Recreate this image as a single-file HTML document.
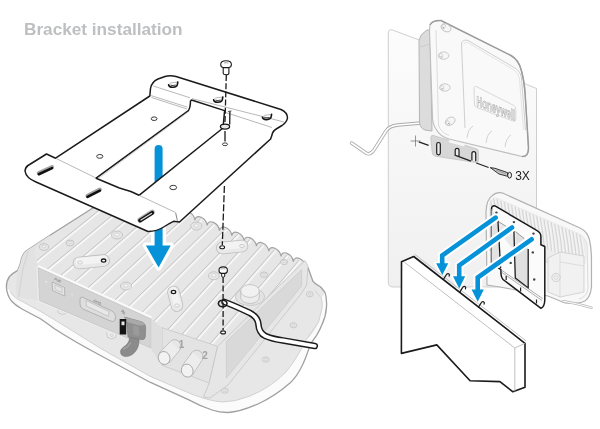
<!DOCTYPE html>
<html><head><meta charset="utf-8">
<style>
html,body{margin:0;padding:0;background:#fff;}
body{width:600px;height:429px;overflow:hidden;position:relative;font-family:"Liberation Sans",sans-serif;}
h1{position:absolute;left:24px;top:19.2px;will-change:transform;margin:0;font-size:17.2px;line-height:20px;font-weight:bold;color:#bebfc1;white-space:nowrap;}
svg{position:absolute;left:0;top:0;will-change:transform;}
</style></head>
<body>
<svg width="600" height="429" viewBox="0 0 600 429">
<defs>
<linearGradient id="wall" x1="0" y1="0" x2="0" y2="1">
<stop offset="0" stop-color="#fcfcfc"/><stop offset="0.5" stop-color="#f6f6f6"/><stop offset="1" stop-color="#f0f0f0"/>
</linearGradient>
</defs>
<path d="M96,206 L50.4,235 L26.1,250.9 Q21.5,255 20.5,263 L17.7,270.4 Q13,273 9.5,276.5 Q6.3,281 6.4,287 Q6.8,295 11.5,301 Q15,305 22,309 L40.8,319 Q48,324 54.8,329 Q75,342 100,355.2 L150,382.2 L187.8,399.4 Q200,406 212,410 Q220,412.6 228,412.5 Q240,412 259,403.5 Q275,396 290,383 Q302,372 310.1,344.6 L316.6,335.3 Q320,330 322.2,324.1 Q326,316 326.5,307 Q327,298 325,292.4 Q322,288.5 320.4,286.8 Q314,283 312.9,281.2 L308,267.5 L170,212 Z" fill="#e7e7e7"/>
<path d="M6.4,287 Q6.8,295 11.5,301 Q15,305 22,309 L40.8,319 Q48,324 54.8,329 Q75,342 100,355.2 L150,382.2 L187.8,399.4 Q200,406 212,410 Q220,412.6 228,412.5 Q240,412 259,403.5 Q275,396 290,383 Q302,372 310.1,344.6 L316.6,335.3 Q320,330 322.2,324.1 Q326,316 326.5,307 Q327,298 325,292.4 L321.3,298 Q322.5,302 322.2,307.3 L318.5,322.2 Q314,333 306,340 Q296,360 286,372 Q270,388 250,396 Q235,402 222,402 Q210,401 193.3,394.8 L150,376.3 L100,348 L60,323.1 L40.8,311.5 L23.3,302.1 Q17,299 15.2,297.5 Q11,294 10.5,291.7 Z" fill="#fbfbfb"/>
<path d="M10.5,291.7 Q11,294 15.2,297.5 Q17,299 23.3,302.1 L40.8,311.5 L60,323.1 L100,348 L150,376.3 L193.3,394.8 Q210,401 222,402 Q235,402 250,396 Q270,388 286,372 Q296,360 306,340 L318.5,322.2 L322.2,307.3 Q322.5,302 321.3,298 L314.8,290.5" fill="none" stroke="#cdcdcd" stroke-width="0.9"/>
<path d="M96,206 L50.4,235 L26.1,250.9 Q21.5,255 20.5,263 L17.7,270.4 Q13,273 9.5,276.5 Q6.3,281 6.4,287 Q6.8,295 11.5,301 Q15,305 22,309 L40.8,319 Q48,324 54.8,329 Q75,342 100,355.2 L150,382.2 L187.8,399.4 Q200,406 212,410 Q220,412.6 228,412.5 Q240,412 259,403.5 Q275,396 290,383 Q302,372 310.1,344.6 L316.6,335.3 Q320,330 322.2,324.1 Q326,316 326.5,307 Q327,298 325,292.4 Q322,288.5 320.4,286.8 Q314,283 312.9,281.2 L308,267.5" fill="none" stroke="#a0a0a0" stroke-width="1.3"/>
<path d="M57.6,308 L58.6,313 Q62.6,316 66.6,313 L67.6,308" fill="#ececec" stroke="#c0c0c0" stroke-width="0.8"/>
<ellipse cx="62.6" cy="311" rx="1.6" ry="1.1" fill="none" stroke="#c0c0c0" stroke-width="0.6"/>
<path d="M106.6,332.4 L107.6,337.4 Q111.6,340.4 115.6,337.4 L116.6,332.4" fill="#ececec" stroke="#c0c0c0" stroke-width="0.8"/>
<ellipse cx="111.6" cy="335.4" rx="1.6" ry="1.1" fill="none" stroke="#c0c0c0" stroke-width="0.6"/>
<path d="M26.1,250.9 L50.4,235 L43,249 L38,267.5 L39.5,300.5 L17.5,297.5 Q15,290 16.3,280 L17.7,270.4 L20.5,263 Q21.5,255 26.1,250.9 Z" fill="#e2e2e2"/>
<path d="M28.5,251 L23.3,266.7 L21.5,278 L18.5,297" fill="none" stroke="#cdcdcd" stroke-width="0.8"/>
<clipPath id="tfc"><path d="M38,267.5 L34,250 L40,244.5 L93,209.5 L170.2,210.0 C171.1,202.4 181.8,207.6 182.6,215.2 C183.4,207.6 194.1,212.7 194.9,220.3 C195.7,212.7 206.4,217.9 207.2,225.5 C208.0,217.9 218.7,223.1 219.5,230.7 C220.3,223.1 231.0,228.2 231.8,235.8 C232.6,228.2 243.3,233.4 244.1,241.0 C244.9,233.4 255.6,238.6 256.4,246.2 C257.2,238.6 267.9,243.7 268.7,251.3 C269.5,243.7 280.2,248.9 281.0,256.5 C281.8,248.9 292.5,254.1 293.3,261.7 C294.1,254.1 304.8,259.2 305.6,266.8 L308,267.5 L306.6,285 L301,294 L226,348 L217.6,346.4 L162,327.6 L151.5,319 Z"/></clipPath>
<path d="M38,267.5 L34,250 L40,244.5 L93,209.5 L170.2,210.0 C171.1,202.4 181.8,207.6 182.6,215.2 C183.4,207.6 194.1,212.7 194.9,220.3 C195.7,212.7 206.4,217.9 207.2,225.5 C208.0,217.9 218.7,223.1 219.5,230.7 C220.3,223.1 231.0,228.2 231.8,235.8 C232.6,228.2 243.3,233.4 244.1,241.0 C244.9,233.4 255.6,238.6 256.4,246.2 C257.2,238.6 267.9,243.7 268.7,251.3 C269.5,243.7 280.2,248.9 281.0,256.5 C281.8,248.9 292.5,254.1 293.3,261.7 C294.1,254.1 304.8,259.2 305.6,266.8 L308,267.5 L306.6,285 L301,294 L226,348 L217.6,346.4 L162,327.6 L151.5,319 Z" fill="#e6e6e6"/>
<g clip-path="url(#tfc)">
<path d="M-25.1,274.8 L102.1,177.6" stroke="#c4c4c4" stroke-width="1" fill="none"/>
<path d="M-23.5,275.6 L103.7,178.4" stroke="#f8f8f8" stroke-width="1.6" fill="none"/>
<path d="M-11.1,281.3 L114.4,182.7" stroke="#c4c4c4" stroke-width="1" fill="none"/>
<path d="M-9.5,282.1 L116.0,183.5" stroke="#f8f8f8" stroke-width="1.6" fill="none"/>
<path d="M2.9,287.7 L126.7,187.9" stroke="#c4c4c4" stroke-width="1" fill="none"/>
<path d="M4.5,288.5 L128.3,188.7" stroke="#f8f8f8" stroke-width="1.6" fill="none"/>
<path d="M16.9,294.2 L139.0,193.1" stroke="#c4c4c4" stroke-width="1" fill="none"/>
<path d="M18.5,295.0 L140.6,193.9" stroke="#f8f8f8" stroke-width="1.6" fill="none"/>
<path d="M30.9,300.7 L151.3,198.2" stroke="#c4c4c4" stroke-width="1" fill="none"/>
<path d="M32.5,301.5 L152.9,199.0" stroke="#f8f8f8" stroke-width="1.6" fill="none"/>
<path d="M44.9,307.2 L163.6,203.4" stroke="#c4c4c4" stroke-width="1" fill="none"/>
<path d="M46.5,308.0 L165.2,204.2" stroke="#f8f8f8" stroke-width="1.6" fill="none"/>
<path d="M58.9,313.7 L175.9,208.6" stroke="#c4c4c4" stroke-width="1" fill="none"/>
<path d="M60.5,314.5 L177.5,209.4" stroke="#f8f8f8" stroke-width="1.6" fill="none"/>
<path d="M72.9,320.1 L188.2,213.7" stroke="#c4c4c4" stroke-width="1" fill="none"/>
<path d="M74.5,320.9 L189.8,214.5" stroke="#f8f8f8" stroke-width="1.6" fill="none"/>
<path d="M86.9,326.6 L200.5,218.9" stroke="#c4c4c4" stroke-width="1" fill="none"/>
<path d="M88.5,327.4 L202.1,219.7" stroke="#f8f8f8" stroke-width="1.6" fill="none"/>
<path d="M100.8,333.1 L212.8,224.1" stroke="#c4c4c4" stroke-width="1" fill="none"/>
<path d="M102.4,333.9 L214.4,224.9" stroke="#f8f8f8" stroke-width="1.6" fill="none"/>
<path d="M114.8,339.6 L225.1,229.2" stroke="#c4c4c4" stroke-width="1" fill="none"/>
<path d="M116.4,340.4 L226.7,230.0" stroke="#f8f8f8" stroke-width="1.6" fill="none"/>
<path d="M128.8,347.1 L237.4,234.4" stroke="#c4c4c4" stroke-width="1" fill="none"/>
<path d="M130.4,347.9 L239.0,235.2" stroke="#f8f8f8" stroke-width="1.6" fill="none"/>
<path d="M142.8,356.9 L249.7,239.6" stroke="#c4c4c4" stroke-width="1" fill="none"/>
<path d="M144.4,357.7 L251.3,240.4" stroke="#f8f8f8" stroke-width="1.6" fill="none"/>
<path d="M156.8,362.3 L262.0,244.7" stroke="#c4c4c4" stroke-width="1" fill="none"/>
<path d="M158.4,363.1 L263.6,245.5" stroke="#f8f8f8" stroke-width="1.6" fill="none"/>
<path d="M170.8,367.7 L274.3,249.9" stroke="#c4c4c4" stroke-width="1" fill="none"/>
<path d="M172.4,368.5 L275.9,250.7" stroke="#f8f8f8" stroke-width="1.6" fill="none"/>
<path d="M184.8,373.1 L286.6,255.1" stroke="#c4c4c4" stroke-width="1" fill="none"/>
<path d="M186.4,373.9 L288.2,255.9" stroke="#f8f8f8" stroke-width="1.6" fill="none"/>
<path d="M198.8,378.5 L298.9,260.2" stroke="#c4c4c4" stroke-width="1" fill="none"/>
<path d="M200.4,379.3 L300.5,261.0" stroke="#f8f8f8" stroke-width="1.6" fill="none"/>
<path d="M212.8,383.9 L311.2,265.4" stroke="#c4c4c4" stroke-width="1" fill="none"/>
<path d="M214.4,384.7 L312.8,266.2" stroke="#f8f8f8" stroke-width="1.6" fill="none"/>
</g>
<path d="M170.2,210.0 C171.1,202.4 181.8,207.6 182.6,215.2 C183.4,207.6 194.1,212.7 194.9,220.3 C195.7,212.7 206.4,217.9 207.2,225.5 C208.0,217.9 218.7,223.1 219.5,230.7 C220.3,223.1 231.0,228.2 231.8,235.8 C232.6,228.2 243.3,233.4 244.1,241.0 C244.9,233.4 255.6,238.6 256.4,246.2 C257.2,238.6 267.9,243.7 268.7,251.3 C269.5,243.7 280.2,248.9 281.0,256.5 C281.8,248.9 292.5,254.1 293.3,261.7 C294.1,254.1 304.8,259.2 305.6,266.8 L308,267.5" fill="none" stroke="#a2a2a2" stroke-width="1.2"/>
<path d="M38,266 L151.5,317.5" stroke="#fafafa" stroke-width="2" fill="none"/>
<path d="M79,263 L103.6,260.6" stroke="#bdbdbd" stroke-width="12.6" stroke-linecap="round"/>
<path d="M79,263 L103.6,260.6" stroke="#e9e9e9" stroke-width="11.0" stroke-linecap="round"/>
<path d="M79,261.5 L103.6,259.1" stroke="#f3f3f3" stroke-width="7.0" stroke-linecap="round"/>
<ellipse cx="80" cy="262.5" rx="2.4" ry="1.6" fill="none" stroke="#c4c4c4" stroke-width="0.8"/>
<ellipse cx="103.6" cy="260.6" rx="2.2" ry="1.6" fill="#fff" stroke="#1b1b1b" stroke-width="1.3"/>
<path d="M173.5,292 L177,305.5" stroke="#bdbdbd" stroke-width="12.6" stroke-linecap="round"/>
<path d="M173.5,292 L177,305.5" stroke="#e9e9e9" stroke-width="11.0" stroke-linecap="round"/>
<path d="M173.5,290.5 L177,304.0" stroke="#f3f3f3" stroke-width="7.0" stroke-linecap="round"/>
<ellipse cx="173.5" cy="292" rx="2.2" ry="1.6" fill="#fff" stroke="#1b1b1b" stroke-width="1.3"/>
<ellipse cx="177" cy="305.5" rx="2.4" ry="1.6" fill="none" stroke="#c4c4c4" stroke-width="0.8"/>
<path d="M222.3,248 L242,246" stroke="#bdbdbd" stroke-width="12.6" stroke-linecap="round"/>
<path d="M222.3,248 L242,246" stroke="#e9e9e9" stroke-width="11.0" stroke-linecap="round"/>
<path d="M222.3,246.5 L242,244.5" stroke="#f3f3f3" stroke-width="7.0" stroke-linecap="round"/>
<ellipse cx="242" cy="246" rx="2.4" ry="1.6" fill="none" stroke="#c4c4c4" stroke-width="0.8"/>
<ellipse cx="117" cy="235" rx="5.5" ry="4.0" fill="#e6e6e6" stroke="#bdbdbd" stroke-width="0.8"/>
<ellipse cx="117" cy="234.5" rx="2.25" ry="1.6" fill="#f5f5f5" stroke="#c4c4c4" stroke-width="0.6"/>
<ellipse cx="70" cy="243" rx="4.0" ry="2.9499999999999997" fill="#e6e6e6" stroke="#bdbdbd" stroke-width="0.8"/>
<ellipse cx="70" cy="242.5" rx="1.575" ry="1.12" fill="#f5f5f5" stroke="#c4c4c4" stroke-width="0.6"/>
<ellipse cx="44" cy="247" rx="4.5" ry="3.3" fill="#e6e6e6" stroke="#bdbdbd" stroke-width="0.8"/>
<ellipse cx="44" cy="246.5" rx="1.8" ry="1.28" fill="#f5f5f5" stroke="#c4c4c4" stroke-width="0.6"/>
<ellipse cx="126" cy="286" rx="5.5" ry="4.0" fill="#e6e6e6" stroke="#bdbdbd" stroke-width="0.8"/>
<ellipse cx="126" cy="285.5" rx="2.25" ry="1.6" fill="#f5f5f5" stroke="#c4c4c4" stroke-width="0.6"/>
<ellipse cx="196.3" cy="226" rx="5.5" ry="4.0" fill="#e6e6e6" stroke="#bdbdbd" stroke-width="0.8"/>
<ellipse cx="196.3" cy="225.5" rx="2.25" ry="1.6" fill="#f5f5f5" stroke="#c4c4c4" stroke-width="0.6"/>
<ellipse cx="213.8" cy="275.8" rx="5.5" ry="4.0" fill="#e6e6e6" stroke="#bdbdbd" stroke-width="0.8"/>
<ellipse cx="213.8" cy="275.3" rx="2.25" ry="1.6" fill="#f5f5f5" stroke="#c4c4c4" stroke-width="0.6"/>
<ellipse cx="264" cy="274.7" rx="3.7" ry="2.7399999999999998" fill="#e6e6e6" stroke="#bdbdbd" stroke-width="0.8"/>
<ellipse cx="264" cy="274.2" rx="1.4400000000000002" ry="1.024" fill="#f5f5f5" stroke="#c4c4c4" stroke-width="0.6"/>
<ellipse cx="284" cy="262" rx="3.5" ry="2.5999999999999996" fill="#e6e6e6" stroke="#bdbdbd" stroke-width="0.8"/>
<ellipse cx="284" cy="261.5" rx="1.35" ry="0.96" fill="#f5f5f5" stroke="#c4c4c4" stroke-width="0.6"/>
<ellipse cx="309.8" cy="294.2" rx="3.4" ry="2.6" fill="#e9e9e9" stroke="#c0c0c0" stroke-width="0.8"/>
<ellipse cx="309.8" cy="294.2" rx="1.5" ry="1.1" fill="none" stroke="#c6c6c6" stroke-width="0.6"/>
<ellipse cx="293.4" cy="325.3" rx="3.4" ry="2.6" fill="#e9e9e9" stroke="#c0c0c0" stroke-width="0.8"/>
<ellipse cx="293.4" cy="325.3" rx="1.5" ry="1.1" fill="none" stroke="#c6c6c6" stroke-width="0.6"/>
<ellipse cx="265.7" cy="359.6" rx="3.4" ry="2.6" fill="#e9e9e9" stroke="#c0c0c0" stroke-width="0.8"/>
<ellipse cx="265.7" cy="359.6" rx="1.5" ry="1.1" fill="none" stroke="#c6c6c6" stroke-width="0.6"/>
<ellipse cx="224.8" cy="390.6" rx="3.4" ry="2.6" fill="#e9e9e9" stroke="#c0c0c0" stroke-width="0.8"/>
<ellipse cx="224.8" cy="390.6" rx="1.5" ry="1.1" fill="none" stroke="#c6c6c6" stroke-width="0.6"/>
<ellipse cx="250" cy="296.8" rx="14.6" ry="8.7" fill="#e3e3e3" stroke="#c3c3c3" stroke-width="0.8"/>
<path d="M240.7,291 L240.7,297 Q241,303 250,303.5 Q259,303 259.3,297 L259.3,291 Z" fill="#ececec" stroke="#bdbdbd" stroke-width="0.8"/>
<ellipse cx="250" cy="291" rx="9.3" ry="6.4" fill="#f1f1f1" stroke="#bdbdbd" stroke-width="0.8"/>
<path d="M36.5,266 L153,319 L153,350 L38,301.5 Z" fill="#efefef"/>
<path d="M38.2,267.8 L151.2,319.1 L151.2,348.2 L39.5,300.5 Z" fill="#d4d4d4" stroke="#c2c2c2" stroke-width="0.7"/>
<path d="M52.2,282 L64.5,287.5 L64.8,296 L52.5,290.5 Z" fill="#e4e4e4" stroke="#a5a5a5" stroke-width="0.7"/>
<path d="M55,285 L62,288 L62,292.5 L55,289.5 Z" fill="none" stroke="#b0b0b0" stroke-width="0.5"/>
<text x="0" y="0" transform="translate(54,280) rotate(24)" font-size="3.6" font-weight="bold" fill="#888">PoE</text>
<circle cx="46.3" cy="281.8" r="0.7" fill="#f5f5f5"/>
<circle cx="72" cy="294.6" r="0.7" fill="#f5f5f5"/>
<path d="M82,297 L112,311 Q115.5,313 115.5,316.5 L115,320 Q114,322.5 110.5,321 L83,309 Q80,307.5 80,304 L80,299.5 Q80.5,296.5 82,297 Z" fill="#dedede" stroke="#a8a8a8" stroke-width="0.8"/>
<path d="M86,300.5 L109,311.5 L108.5,316.5 L86.5,306 Z" fill="#e8e8e8" stroke="#b2b2b2" stroke-width="0.6"/>
<text x="0" y="0" transform="translate(93,301.5) rotate(24)" font-size="3.4" font-weight="bold" fill="#8c8c8c">GPIO</text>
<path d="M121,311 L125,313 M122,309.8 L124,311" stroke="#777" stroke-width="0.6"/>
<path d="M162,327.6 L217.6,346.4 L209.2,383 L162,365.3 Z" fill="#e3e3e3" stroke="#c6c6c6" stroke-width="0.8"/>
<path d="M151.5,319 L162,327.6 L162,365.3 L151.5,350 Z" fill="#dedede"/>
<ellipse cx="174.6" cy="346.4" rx="6.3" ry="6.8" fill="#e6e6e6" stroke="#b4b4b4" stroke-width="0.8"/>
<path d="M170.6,341.4 L159.29999999999998,352.5 L169.1,363.2 L179.6,350.4 Z" fill="#ededed" stroke="none"/>
<path d="M170.1,341.79999999999995 L159.1,353 M179.4,350.59999999999997 L169.1,363" stroke="#b8b8b8" stroke-width="0.8"/>
<ellipse cx="164.1" cy="358" rx="5.8" ry="6.6" fill="#f2f2f2" stroke="#a9a9a9" stroke-width="0.9" transform="rotate(-20 164.1 358)"/>
<ellipse cx="196.6" cy="357" rx="6.3" ry="6.8" fill="#e6e6e6" stroke="#b4b4b4" stroke-width="0.8"/>
<path d="M192.6,352 L182.39999999999998,365.1 L192.2,375.8 L201.6,361 Z" fill="#ededed" stroke="none"/>
<path d="M192.1,352.4 L182.2,365.6 M201.4,361.2 L192.2,375.6" stroke="#b8b8b8" stroke-width="0.8"/>
<ellipse cx="187.2" cy="370.6" rx="5.8" ry="6.6" fill="#f2f2f2" stroke="#a9a9a9" stroke-width="0.9" transform="rotate(-20 187.2 370.6)"/>
<text x="178.8" y="347.5" font-size="10" font-weight="bold" fill="#a3a3a3">1</text>
<text x="202.3" y="359" font-size="10" font-weight="bold" fill="#a3a3a3">2</text>
<path d="M217.6,346.4 L305,260.5 L308,266 L306.6,285 L301,294 L228,385 L210,398 L203.5,397 L209.2,383 Z" fill="#e6e6e6" stroke="#c4c4c4" stroke-width="0.8"/>
<path d="M226.4,341.6 L301.6,269.7 L301.6,286 L226.4,378 Z" fill="#d9d9d9" stroke="#c6c6c6" stroke-width="0.6"/>
<path d="M130,337 L139,338.5 C139.5,346 136.5,352.5 130.5,355.5 Q124,358 121,354.3 Q119.2,350 123.2,347.3 Q129,343.8 129.6,338 Z" fill="#8b8b8b" stroke="#777" stroke-width="0.6"/>
<path d="M123.6,349 Q128,347.5 130.5,343" fill="none" stroke="#a3a3a3" stroke-width="1.4" stroke-linecap="round"/>
<path d="M124.3,317 L141,321.6 Q145.6,323.2 145.6,327.5 L145.3,336.8 Q145,340 141.3,339.6 L128,337 L126.5,320 Z" fill="#8f8f8f" stroke="#777" stroke-width="0.6"/>
<path d="M124.3,317 L141,321.6 Q144,322.6 145,325 L139,325.5 L127,322 Z" fill="#a9a9a9"/>
<path d="M133,325.5 L139,327 L139.3,336 L133.4,334.8 Z" fill="#9a9a9a"/>
<rect x="119.7" y="319" width="6.5" height="15.5" fill="#141414"/>
<path d="M121.5,321.5 L124.5,321.5 L124.5,325.2 L121.5,325.2 Z" fill="#e5e5e5"/>
<path d="M122,313 L125,314.2 M122.8,311.2 L124.5,311.9" stroke="#8a8a8a" stroke-width="0.6"/>
<path d="M224.6,302 Q234,305.5 250,313 Q257.5,317 258.3,323.5 Q259,333 265,335.8 Q272,339 283,340.4 L314.8,345.9" fill="none" stroke="#1b1b1b" stroke-width="6.6" stroke-linecap="round"/>
<path d="M224.6,302 Q234,305.5 250,313 Q257.5,317 258.3,323.5 Q259,333 265,335.8 Q272,339 283,340.4 L314.8,345.9" fill="none" stroke="#fff" stroke-width="3.6" stroke-linecap="round"/>
<ellipse cx="222.7" cy="303.5" rx="4.3" ry="3.3" fill="none" stroke="#1b1b1b" stroke-width="1.6"/>
<path d="M158.6,149 L158.6,246" stroke="#fff" stroke-width="15" fill="none"/><path d="M145.9,245.6 L170.7,245.6 L158.6,267.5 Z" fill="#fff" stroke="#fff" stroke-width="6" stroke-linejoin="round"/><path d="M158.6,149 L158.6,247" stroke="#0592d8" stroke-width="8" stroke-linecap="round" fill="none"/><path d="M145.9,245.6 L170.7,245.6 L158.6,267.5 Z" fill="#0592d8"/>
<path d="M149.8,96 L150.5,88.5 Q151.5,82 158,79 L165,76.5 Q170,75 176,76.5 L281,109.5 Q287.5,112.5 287.5,118 Q287,122 282,125.5 L277,128.5 Q272.5,131 272,135 L270.6,139 L179.5,222 L173.5,221.3 Q168,224 164.5,226.5 Q157,231.5 148,231.5 L36,182 Q26,178 25,171 Q25.5,167 28,165.5 L46.5,154 L55.6,158.2 Z M190.5,101 L191.5,100 L224.6,110.6 L223,128 L139,195.3 L132,192 L130,191.2 L119.4,188 L96.1,178.2 L188.4,110.6 Q190.3,108 190.5,101 Z" fill="#fff" fill-rule="evenodd" stroke="#1b1b1b" stroke-width="1.5" stroke-linejoin="round"/>
<g stroke="#9a9a9a" stroke-width="0.7" fill="none"><path d="M153.3,86 L190,97.8 M192,98.6 L284,122"/><path d="M151,95.6 L187.5,107.2"/><path d="M151.5,97.5 L187,109"/><path d="M225,112.3 L272,127.5"/><path d="M55.6,158.2 L96,178 M139,195.3 L175,212.2"/><path d="M188,112 L99,178" stroke="#bbb"/></g>
<path d="M168.6,84.8 Q170,82.39999999999999 174,82.5 L177.8,82.0" fill="none" stroke="#b0b0b0" stroke-width="0.9"/>
<path d="M168.6,84.8 Q169,87.39999999999999 173,87.2 Q177,86.89999999999999 177.4,84.3 L177.8,82.0" fill="none" stroke="#151515" stroke-width="1.6" stroke-linecap="round" stroke-linejoin="round"/>
<path d="M170.4,85.2 Q173,86.0 175.8,85.0" fill="none" stroke="#151515" stroke-width="0.8"/>
<path d="M213.6,99.8 Q215,97.39999999999999 219,97.5 L222.8,97.0" fill="none" stroke="#b0b0b0" stroke-width="0.9"/>
<path d="M213.6,99.8 Q214,102.39999999999999 218,102.2 Q222,101.89999999999999 222.4,99.3 L222.8,97.0" fill="none" stroke="#151515" stroke-width="1.6" stroke-linecap="round" stroke-linejoin="round"/>
<path d="M215.4,100.2 Q218,101.0 220.8,100.0" fill="none" stroke="#151515" stroke-width="0.8"/>
<path d="M262.40000000000003,117.2 Q263.8,114.8 267.8,114.9 L271.6,114.4" fill="none" stroke="#b0b0b0" stroke-width="0.9"/>
<path d="M262.40000000000003,117.2 Q262.8,119.8 266.8,119.60000000000001 Q270.8,119.3 271.2,116.7 L271.6,114.4" fill="none" stroke="#151515" stroke-width="1.6" stroke-linecap="round" stroke-linejoin="round"/>
<path d="M264.2,117.60000000000001 Q266.8,118.4 269.6,117.4" fill="none" stroke="#151515" stroke-width="0.8"/>
<ellipse cx="154.1" cy="118.7" rx="2.9" ry="1.8" fill="#fff" stroke="#3a3a3a" stroke-width="1.0"/>
<ellipse cx="99.8" cy="156.4" rx="3.1" ry="1.9" fill="#fff" stroke="#3a3a3a" stroke-width="1.0"/>
<ellipse cx="173.2" cy="187.5" rx="3.4" ry="2.2" fill="#fff" stroke="#3a3a3a" stroke-width="1.0"/>
<path d="M38.8,173.2 L52,167.1" stroke="#a5a5a5" stroke-width="4.2" stroke-linecap="round"/>
<path d="M38.8,174.2 L52,168.1" stroke="#111" stroke-width="2.6" stroke-linecap="round"/>
<path d="M87.5,195.8 L99.8,189.7" stroke="#a5a5a5" stroke-width="4.2" stroke-linecap="round"/>
<path d="M87.5,196.8 L99.8,190.7" stroke="#111" stroke-width="2.6" stroke-linecap="round"/>
<path d="M140,220 L152.2,212.2" stroke="#b0b0b0" stroke-width="5.2" stroke-linecap="round"/>
<path d="M140,220.6 L152.2,212.8" stroke="#151515" stroke-width="3.8" stroke-linecap="round"/>
<path d="M141,220.1 L151.4,213.4" stroke="#d8d8d8" stroke-width="1.2" stroke-linecap="round"/>
<path d="M175.6,212.6 L177.4,220.6" stroke="#666" stroke-width="0.8" fill="none"/>
<g stroke="#1b1b1b" fill="none" stroke-width="1.3"><path d="M226.3,75 L225,122" stroke-dasharray="6,2.2"/><path d="M225,131 L225,141.5"/><path d="M224.4,186 L222.3,245" stroke-dasharray="7,2.2"/><path d="M223.1,277 L223.1,330" stroke-dasharray="6,2.5"/></g><path d="M229.9,112 L229.7,124.5" stroke="#1b1b1b" stroke-width="1.3"/><path d="M228.2,111.6 L231.4,111" stroke="#1b1b1b" stroke-width="0.9"/><path d="M223.2,67.5 L223.2,73.3 Q223.4,74.8 226.1,74.8 Q228.8,74.8 228.9,73.3 L228.9,67.5 Z" fill="#fff" stroke="#1b1b1b" stroke-width="1.1"/><path d="M220.7,64.8 Q220.5,60.7 226,60.7 Q231.6,60.7 231.4,64.8 Q231.2,67.6 228.5,67.6 L223.6,67.6 Q220.9,67.6 220.7,64.8 Z" fill="#fff" stroke="#1b1b1b" stroke-width="1.1"/><path d="M224,63 Q226,62.3 228.3,63" stroke="#999" stroke-width="0.9" fill="none"/><ellipse cx="225" cy="126.6" rx="4.6" ry="2.5" fill="#e8e8e8" stroke="#1b1b1b" stroke-width="1.3"/><ellipse cx="225" cy="144.3" rx="2.6" ry="1.4" fill="#fff" stroke="#333" stroke-width="0.9"/><ellipse cx="222.2" cy="247.3" rx="2.4" ry="1.5" fill="#fff" stroke="#1b1b1b" stroke-width="1.1"/><path d="M221.7,273 L221.7,276.3 Q222,277.2 223.2,277.2 Q224.5,277.2 224.7,276.3 L224.7,273 Z" fill="#fff" stroke="#1b1b1b" stroke-width="1"/><path d="M219,270.2 Q218.9,266.9 223.2,266.9 Q227.5,266.9 227.4,270.2 Q227.3,273.4 225,273.4 L221.4,273.4 Q219.1,273.4 219,270.2 Z" fill="#fff" stroke="#1b1b1b" stroke-width="1.1"/><path d="M221,269 Q223.2,268.3 225.4,269" stroke="#999" stroke-width="0.8" fill="none"/><ellipse cx="223.1" cy="332.4" rx="2.4" ry="1.5" fill="#fff" stroke="#1b1b1b" stroke-width="1.1"/>
<path d="M388.3,33 Q388.3,29 392,29.8 L420,40.3 L536.5,88.5 L536.5,282 Q536.5,287 531.5,287 L393,287 Q388.3,287 388.3,282 Z" fill="url(#wall)" stroke="#c4c4c4" stroke-width="0.8"/>
<path d="M351.5,143 Q356,146 366,153 Q370,155.5 374,150 L386,131 Q389,126 398,125 L421,123" fill="none" stroke="#ababab" stroke-width="3.4" stroke-linecap="round"/>
<path d="M351.5,143 Q356,146 366,153 Q370,155.5 374,150 L386,131 Q389,126 398,125 L421,123" fill="none" stroke="#fff" stroke-width="1.7" stroke-linecap="round"/>
<path d="M419,40 Q420,34 427,30 L430,30 L432,131 L425,130 Q419.5,128 419.5,121 Z" fill="#dcdcdc" stroke="#b5b5b5" stroke-width="1"/>
<path d="M420.5,47 L428.5,44.5" stroke="#c8c8c8" stroke-width="0.9"/>
<path d="M430,25 Q432,20.3 441,20.5 L511,55.5 Q519,60 521.5,71 Q524,80 525,92 L528.5,148 Q528.5,157 522,156.5 L449,139 Q440,136.5 436,129 Q433,125 432.5,118 L429.5,31 Z" fill="#f9f9f9" stroke="#bcbcbc" stroke-width="1.1"/>
<path d="M430,25 Q432,20.3 441,20.5 L511,55.5 Q519,60 521.5,71 Q524,80 525,92 L528.5,148 Q528.5,157 522,156.5" fill="none" stroke="#9c9c9c" stroke-width="1.5"/>
<path d="M436,30 L438.5,125 Q440,132 449,135.5" fill="none" stroke="#d4d4d4" stroke-width="0.8"/>
<path d="M461.5,44 Q462,38.8 468,40.5 L515,68 Q520.5,71.5 521.5,78 L525.5,130" fill="none" stroke="#c9c9c9" stroke-width="0.9"/>
<path d="M463.7,44.5 Q464.5,41.5 468.5,43 L514,70 Q518.5,73 519.5,79 L523.5,130" fill="none" stroke="#dadada" stroke-width="0.7"/>
<path d="M461.5,44 L465,128" fill="none" stroke="#c9c9c9" stroke-width="0.9"/>
<g transform="rotate(28 446 27.8)"><ellipse cx="446" cy="27.8" rx="5.3" ry="3.7" fill="#f6f6f6" stroke="#bdbdbd" stroke-width="0.8"/><ellipse cx="443.4" cy="28.0" rx="1.6" ry="2.4" fill="none" stroke="#c2c2c2" stroke-width="0.6"/><path d="M443.2,28.3 L444,29.6" stroke="#999" stroke-width="0.8"/></g>
<g transform="rotate(0 443.6 55.6)"><ellipse cx="443.6" cy="55.6" rx="5.3" ry="3.7" fill="#f6f6f6" stroke="#bdbdbd" stroke-width="0.8"/><ellipse cx="441.0" cy="55.800000000000004" rx="1.6" ry="2.4" fill="none" stroke="#c2c2c2" stroke-width="0.6"/><path d="M440.8,56.1 L441.6,57.4" stroke="#999" stroke-width="0.8"/></g>
<g transform="rotate(0 444.8 87.5)"><ellipse cx="444.8" cy="87.5" rx="5.3" ry="3.7" fill="#f6f6f6" stroke="#bdbdbd" stroke-width="0.8"/><ellipse cx="442.2" cy="87.7" rx="1.6" ry="2.4" fill="none" stroke="#c2c2c2" stroke-width="0.6"/><path d="M442.0,88.0 L442.8,89.3" stroke="#999" stroke-width="0.8"/></g>
<g transform="rotate(-32 450.2 121.3)"><ellipse cx="450.2" cy="121.3" rx="5.3" ry="3.7" fill="#f6f6f6" stroke="#bdbdbd" stroke-width="0.8"/><ellipse cx="447.59999999999997" cy="121.5" rx="1.6" ry="2.4" fill="none" stroke="#c2c2c2" stroke-width="0.6"/><path d="M447.4,121.8 L448.2,123.1" stroke="#999" stroke-width="0.8"/></g>
<path d="M467,138 Q468,129 473,126" fill="none" stroke="#cdcdcd" stroke-width="0.9"/>
<path d="M486,143 Q487,134 492,131" fill="none" stroke="#cdcdcd" stroke-width="0.9"/>
<path d="M505,147 Q506,138 511,135" fill="none" stroke="#cdcdcd" stroke-width="0.9"/>
<path d="M474,88.5 Q474,85.6 476.8,86.8 L513.5,105.3 Q515.8,106.5 515.8,109.5 L515.8,119 Q515.8,122 513,121 L476.5,107.4 Q474.4,106.6 474.4,104 Z" fill="none" stroke="#cfcfcf" stroke-width="0.8"/>
<text x="0" y="0" transform="translate(476.6,105.8) skewY(21)" font-family="Liberation Sans" font-weight="bold" font-size="14.5" textLength="38.5" lengthAdjust="spacingAndGlyphs" fill="#eeeeee" stroke="#a3a3a3" stroke-width="0.6">Honeywell</text>
<path d="M433,135.4 Q430.6,135.2 430.8,138 L432.3,153 Q432.7,155.8 435.5,156.2 L476.3,162.6 Q478.4,162.8 478.4,160.6 L478.4,151.2 Q478.4,149.3 476.4,148.8 Z" fill="#d7d7d7" stroke="#c2c2c2" stroke-width="0.8"/>
<path d="M450,141.3 L463.5,145" stroke="#f6f6f6" stroke-width="2.6" stroke-linecap="round"/>
<rect x="436.7" y="142.5" width="3.6" height="12.4" rx="1.8" fill="#ececec" stroke="#1e1e1e" stroke-width="1.2"/>
<path d="M455.2,156 L455.2,150.2 Q455.2,148.3 457.1,148.3 Q459,148.3 459,150.2 L459,156.5" fill="#ececec" stroke="#1e1e1e" stroke-width="1.2"/>
<path d="M471.9,160.6 L471.9,153.6 Q471.9,151.7 473.8,151.7 Q475.7,151.7 475.7,153.6 L475.7,161.2" fill="#ececec" stroke="#1e1e1e" stroke-width="1.2"/>
<path d="M418.8,141.8 L428.6,145.4 M455.5,155.4 L471,161.1 M476.3,163 L488.6,167.5" stroke="#222" stroke-width="1.3" fill="none"/>
<path d="M415.5,135.5 L415.5,146.5 M410.5,141 L420.5,141" stroke="#555" stroke-width="0.6"/>
<path d="M490.2,167.6 L495,168.3 L507.5,172.6 L507.5,176.3 L499,174 Z" fill="#c8c8c8" stroke="#222" stroke-width="0.9" stroke-linejoin="round"/><path d="M496,170 L506,174" stroke="#777" stroke-width="0.5"/><ellipse cx="509.6" cy="175.2" rx="1.9" ry="2.9" fill="#f2f2f2" stroke="#222" stroke-width="1"/>
<text x="515.2" y="180" font-family="Liberation Sans" font-size="12" fill="#1a1a1a">3X</text>
<path d="M486,212 Q486.5,199 492.5,195.5 Q496,191.8 502,192.8 L580,228 Q588,232 589.5,240 Q591.5,248 591.5,260 L591.5,287 Q590.5,297 585,301 Q579,304 565,303 L548,296 L500,287 L487,285 Z" fill="#f8f8f8" stroke="#b2b2b2" stroke-width="1.2"/>
<path d="M497,200 L579,234 Q586,238 587,246 L588,288 Q587,297 579,299" fill="none" stroke="#d2d2d2" stroke-width="0.8"/>
<clipPath id="rdc"><path d="M489,205 Q490,198 496,197 L578,233 Q585,237 586,245 L586,262 L580,268 L546,262 L489,250 Z"/></clipPath>
<path d="M489,205 Q490,198 496,197 L578,233 Q585,237 586,245 L586,262 L580,268 L546,262 L489,250 Z" fill="#ececec"/>
<g clip-path="url(#rdc)">
<path d="M490.0,196.0 Q492.5,210.0 494.0,226.0" fill="none" stroke="#cdcdcd" stroke-width="0.8"/>
<path d="M491.5,196.7 Q494.0,210.7 495.5,226.7" fill="none" stroke="#f7f7f7" stroke-width="0.8"/>
<path d="M493.6,197.6 Q496.1,211.6 497.6,227.6" fill="none" stroke="#cdcdcd" stroke-width="0.8"/>
<path d="M495.1,198.2 Q497.6,212.2 499.1,228.2" fill="none" stroke="#f7f7f7" stroke-width="0.8"/>
<path d="M497.2,199.1 Q499.7,213.1 501.2,229.1" fill="none" stroke="#cdcdcd" stroke-width="0.8"/>
<path d="M498.7,199.8 Q501.2,213.8 502.7,229.8" fill="none" stroke="#f7f7f7" stroke-width="0.8"/>
<path d="M500.8,200.7 Q503.3,214.7 504.8,230.7" fill="none" stroke="#cdcdcd" stroke-width="0.8"/>
<path d="M502.3,201.3 Q504.8,215.3 506.3,231.3" fill="none" stroke="#f7f7f7" stroke-width="0.8"/>
<path d="M504.4,202.2 Q506.9,216.2 508.4,232.2" fill="none" stroke="#cdcdcd" stroke-width="0.8"/>
<path d="M505.9,202.9 Q508.4,216.9 509.9,232.9" fill="none" stroke="#f7f7f7" stroke-width="0.8"/>
<path d="M508.0,203.8 Q510.5,217.8 512.0,233.8" fill="none" stroke="#cdcdcd" stroke-width="0.8"/>
<path d="M509.5,204.4 Q512.0,218.4 513.5,234.4" fill="none" stroke="#f7f7f7" stroke-width="0.8"/>
<path d="M511.6,205.3 Q514.1,219.3 515.6,235.3" fill="none" stroke="#cdcdcd" stroke-width="0.8"/>
<path d="M513.1,206.0 Q515.6,220.0 517.1,236.0" fill="none" stroke="#f7f7f7" stroke-width="0.8"/>
<path d="M515.2,206.8 Q517.7,220.8 519.2,236.8" fill="none" stroke="#cdcdcd" stroke-width="0.8"/>
<path d="M516.7,207.5 Q519.2,221.5 520.7,237.5" fill="none" stroke="#f7f7f7" stroke-width="0.8"/>
<path d="M518.8,208.4 Q521.3,222.4 522.8,238.4" fill="none" stroke="#cdcdcd" stroke-width="0.8"/>
<path d="M520.3,209.1 Q522.8,223.1 524.3,239.1" fill="none" stroke="#f7f7f7" stroke-width="0.8"/>
<path d="M522.4,209.9 Q524.9,223.9 526.4,239.9" fill="none" stroke="#cdcdcd" stroke-width="0.8"/>
<path d="M523.9,210.6 Q526.4,224.6 527.9,240.6" fill="none" stroke="#f7f7f7" stroke-width="0.8"/>
<path d="M526.0,211.5 Q528.5,225.5 530.0,241.5" fill="none" stroke="#cdcdcd" stroke-width="0.8"/>
<path d="M527.5,212.2 Q530.0,226.2 531.5,242.2" fill="none" stroke="#f7f7f7" stroke-width="0.8"/>
<path d="M529.6,213.1 Q532.1,227.1 533.6,243.1" fill="none" stroke="#cdcdcd" stroke-width="0.8"/>
<path d="M531.1,213.8 Q533.6,227.8 535.1,243.8" fill="none" stroke="#f7f7f7" stroke-width="0.8"/>
<path d="M533.2,214.6 Q535.7,228.6 537.2,244.6" fill="none" stroke="#cdcdcd" stroke-width="0.8"/>
<path d="M534.7,215.3 Q537.2,229.3 538.7,245.3" fill="none" stroke="#f7f7f7" stroke-width="0.8"/>
<path d="M536.8,216.2 Q539.3,230.2 540.8,246.2" fill="none" stroke="#cdcdcd" stroke-width="0.8"/>
<path d="M538.3,216.8 Q540.8,230.8 542.3,246.8" fill="none" stroke="#f7f7f7" stroke-width="0.8"/>
<path d="M540.4,217.7 Q542.9,231.7 544.4,247.7" fill="none" stroke="#cdcdcd" stroke-width="0.8"/>
<path d="M541.9,218.4 Q544.4,232.4 545.9,248.4" fill="none" stroke="#f7f7f7" stroke-width="0.8"/>
<path d="M544.0,219.2 Q546.5,233.2 548.0,249.2" fill="none" stroke="#cdcdcd" stroke-width="0.8"/>
<path d="M545.5,219.9 Q548.0,233.9 549.5,249.9" fill="none" stroke="#f7f7f7" stroke-width="0.8"/>
<path d="M547.6,220.8 Q550.1,234.8 551.6,250.8" fill="none" stroke="#cdcdcd" stroke-width="0.8"/>
<path d="M549.1,221.5 Q551.6,235.5 553.1,251.5" fill="none" stroke="#f7f7f7" stroke-width="0.8"/>
<path d="M551.2,222.3 Q553.7,236.3 555.2,252.3" fill="none" stroke="#cdcdcd" stroke-width="0.8"/>
<path d="M552.7,223.0 Q555.2,237.0 556.7,253.0" fill="none" stroke="#f7f7f7" stroke-width="0.8"/>
<path d="M554.8,223.9 Q557.3,237.9 558.8,253.9" fill="none" stroke="#cdcdcd" stroke-width="0.8"/>
<path d="M556.3,224.6 Q558.8,238.6 560.3,254.6" fill="none" stroke="#f7f7f7" stroke-width="0.8"/>
<path d="M558.4,225.4 Q560.9,239.4 562.4,255.4" fill="none" stroke="#cdcdcd" stroke-width="0.8"/>
<path d="M559.9,226.1 Q562.4,240.1 563.9,256.1" fill="none" stroke="#f7f7f7" stroke-width="0.8"/>
<path d="M562.0,227.0 Q564.5,241.0 566.0,257.0" fill="none" stroke="#cdcdcd" stroke-width="0.8"/>
<path d="M563.5,227.7 Q566.0,241.7 567.5,257.7" fill="none" stroke="#f7f7f7" stroke-width="0.8"/>
<path d="M565.6,228.6 Q568.1,242.6 569.6,258.6" fill="none" stroke="#cdcdcd" stroke-width="0.8"/>
<path d="M567.1,229.2 Q569.6,243.2 571.1,259.2" fill="none" stroke="#f7f7f7" stroke-width="0.8"/>
<path d="M569.2,230.1 Q571.7,244.1 573.2,260.1" fill="none" stroke="#cdcdcd" stroke-width="0.8"/>
<path d="M570.7,230.8 Q573.2,244.8 574.7,260.8" fill="none" stroke="#f7f7f7" stroke-width="0.8"/>
<path d="M572.8,231.7 Q575.3,245.7 576.8,261.6" fill="none" stroke="#cdcdcd" stroke-width="0.8"/>
<path d="M574.3,232.3 Q576.8,246.3 578.3,262.4" fill="none" stroke="#f7f7f7" stroke-width="0.8"/>
<path d="M576.4,233.2 Q578.9,247.2 580.4,263.2" fill="none" stroke="#cdcdcd" stroke-width="0.8"/>
<path d="M577.9,233.9 Q580.4,247.9 581.9,263.9" fill="none" stroke="#f7f7f7" stroke-width="0.8"/>
<path d="M580.0,234.8 Q582.5,248.8 584.0,264.8" fill="none" stroke="#cdcdcd" stroke-width="0.8"/>
<path d="M581.5,235.4 Q584.0,249.4 585.5,265.4" fill="none" stroke="#f7f7f7" stroke-width="0.8"/>
</g>
<path d="M489,250 L546,262 L580,268" fill="none" stroke="#d0d0d0" stroke-width="0.8"/>
<path d="M548,258 L560,252 L584,256 L584,292 L560,297 L548,292 Z" fill="#f1f1f1" stroke="#cdcdcd" stroke-width="0.8"/>
<path d="M560,252 L560,297 M560,262 L584,266" fill="none" stroke="#d3d3d3" stroke-width="0.7"/>
<circle cx="556" cy="277.5" r="4.2" fill="#eeeeee" stroke="#c8c8c8" stroke-width="0.8"/>
<circle cx="556" cy="277.5" r="2" fill="none" stroke="#d0d0d0" stroke-width="0.6"/>
<path d="M563,301.3 Q575,303 591.5,307.7" fill="none" stroke="#bcbcbc" stroke-width="2.5" stroke-linecap="round"/>
<path d="M563,301.3 Q575,303 591.5,307.7" fill="none" stroke="#fff" stroke-width="1" stroke-linecap="round"/>
<path d="M491.5,209 Q491.5,205.5 495,205.9 L536.3,230.1 Q540.9,232.5 540.9,236.4 L540.9,244.8 L544.8,246.5 L544.8,300 Q544.5,307 541,308.3 L503,279.5 Q501.2,277.5 501,274 L500.9,269.7 L491.5,263 Z" fill="#fbfbfb" stroke="#1a1a1a" stroke-width="1.5" stroke-linejoin="round"/>
<path d="M491.5,209 L497.8,218.2 L500.6,268 L491.5,263 Z" fill="#e2e2e2"/>
<path d="M515.5,231.6 L524.3,238.6 L528.2,249 L528.2,288 L515.3,278 Z" fill="#e0e0e0"/>
<path d="M498.6,221.7 L506,226.3 L513.4,236 L513.6,250 L499.2,232 Z" fill="#e9e9e9"/>
<path d="M498.6,221.7 L506,226.3 M515.5,231.6 L524.3,238.6" stroke="#777" stroke-width="0.7" fill="none"/>
<g fill="none" stroke="#1a1a1a" stroke-width="1.3"><path d="M497.8,218.2 L500.6,268"/><path d="M513.9,230.8 L515.3,278 L528.2,288 L528.2,249"/></g>
<path d="M500.9,269.7 L542.5,298.5 M502,272.5 L542,300.5" stroke="#8a8a8a" stroke-width="0.7" fill="none"/>
<circle cx="496.4" cy="212.6" r="1.2" fill="#444"/>
<circle cx="513.9" cy="222.1" r="1.2" fill="#444"/>
<circle cx="533.5" cy="233.6" r="1.2" fill="#444"/>
<circle cx="532.8" cy="252.4" r="1.2" fill="#444"/>
<circle cx="534.2" cy="279.5" r="1.2" fill="#444"/>
<circle cx="510.7" cy="262.9" r="1.2" fill="#444"/>
<path d="M506.2,276 L506.2,280" stroke="#222" stroke-width="1.2"/>
<path d="M520.6,287.4 L520.6,291.4" stroke="#222" stroke-width="1.2"/>
<path d="M536.5,299.5 L536.5,303.5" stroke="#222" stroke-width="1.2"/>
<path d="M495.6,217.7 L442.2,255.5 L442.2,263.5" fill="none" stroke="#fff" stroke-width="8.5" stroke-linecap="round" stroke-linejoin="miter"/>
<path d="M436.1,263.3 L448.3,263.3 L442.3,275 Z" fill="#fff" stroke="#fff" stroke-width="4" stroke-linejoin="round"/>
<path d="M512,227.5 L459.2,265.5 L459.2,276.5" fill="none" stroke="#fff" stroke-width="8.5" stroke-linecap="round" stroke-linejoin="miter"/>
<path d="M453,276.2 L465.2,276.2 L459.2,288.4 Z" fill="#fff" stroke="#fff" stroke-width="4" stroke-linejoin="round"/>
<path d="M531.6,239.3 L477.7,277.5 L477.7,289.5" fill="none" stroke="#fff" stroke-width="8.5" stroke-linecap="round" stroke-linejoin="miter"/>
<path d="M471.6,289.4 L483.8,289.4 L477.7,301.7 Z" fill="#fff" stroke="#fff" stroke-width="4" stroke-linejoin="round"/>
<path d="M495.6,217.7 L442.2,255.5 L442.2,263.5" fill="none" stroke="#0592d8" stroke-width="4.6" stroke-linecap="round" stroke-linejoin="miter"/>
<path d="M436.1,263.3 L448.3,263.3 L442.3,275 Z" fill="#0592d8"/>
<path d="M512,227.5 L459.2,265.5 L459.2,276.5" fill="none" stroke="#0592d8" stroke-width="4.6" stroke-linecap="round" stroke-linejoin="miter"/>
<path d="M453,276.2 L465.2,276.2 L459.2,288.4 Z" fill="#0592d8"/>
<path d="M531.6,239.3 L477.7,277.5 L477.7,289.5" fill="none" stroke="#0592d8" stroke-width="4.6" stroke-linecap="round" stroke-linejoin="miter"/>
<path d="M471.6,289.4 L483.8,289.4 L477.7,301.7 Z" fill="#0592d8"/>
<path d="M401.5,261.7 L413.7,256.5 L525,343.3 L525,387.2 L512.9,391.8 L499.9,381.6 L470.1,380.7 L436.8,344.9 L401.4,353.4 Z" fill="#fff" stroke="#1b1b1b" stroke-width="1.6" stroke-linejoin="round"/>
<path d="M404.3,262.1 L514.8,348 L525,343.3 M514.8,348 L514.8,391.5" stroke="#b0b0b0" stroke-width="0.8" fill="none"/>
<path d="M414.8,254.3 L526.2,341" stroke="#a8a8a8" stroke-width="0.7" fill="none"/>
<path d="M443.5,279.3 L446.1,275.1 Q447.1,273.0 448.7,273.7 Q450.1,274.7 449.1,276.1" fill="none" stroke="#1b1b1b" stroke-width="1.2" stroke-linecap="round"/>
<path d="M459.8,292.1 L462.40000000000003,287.90000000000003 Q463.40000000000003,285.8 465.0,286.5 Q466.40000000000003,287.5 465.40000000000003,288.90000000000003" fill="none" stroke="#1b1b1b" stroke-width="1.2" stroke-linecap="round"/>
<path d="M478.4,307.3 L481.0,303.1 Q482.0,301.0 483.59999999999997,301.7 Q485.0,302.7 484.0,304.1" fill="none" stroke="#1b1b1b" stroke-width="1.2" stroke-linecap="round"/>
</svg>
<h1>Bracket installation</h1>
</body></html>
